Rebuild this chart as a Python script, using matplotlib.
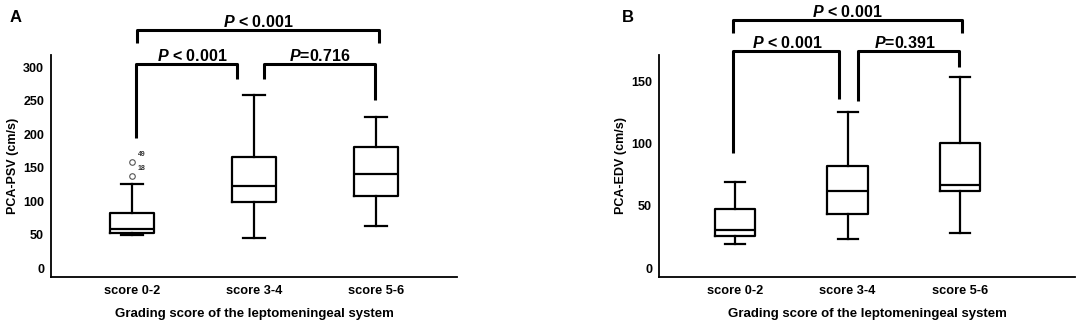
import matplotlib
matplotlib.use("Agg")
import matplotlib.pyplot as plt

plt.rcParams['font.family'] = ['Liberation Sans', 'DejaVu Sans']
plt.rcParams['font.weight'] = 'bold'
plt.rcParams['mathtext.fontset'] = 'custom'
plt.rcParams['mathtext.it'] = 'Liberation Sans:italic:bold'
plt.rcParams['mathtext.rm'] = 'Liberation Sans:bold'

# Data
groups = ['score 0-2', 'score 3-4', 'score 5-6']

# Panel A: PCA-PSV (cm/s)
psv_low = [49, 45, 63]
psv_q1 = [52, 98, 108]
psv_med = [59, 122, 140]
psv_q3 = [82, 165, 180]
psv_high = [126, 258, 226]
psv_outliers = [[138, 159], [], []]
psv_outlier_ids = [['18', '49'], [], []]

# Panel B: PCA-EDV (cm/s)
edv_low = [19.5, 23.5, 28.5]
edv_q1 = [26, 43, 62]
edv_med = [30.5, 62, 66.5]
edv_q3 = [47, 82, 100]
edv_high = [69, 125, 153]

# significance brackets: (x1, x2, y, left leg end, right leg end, label, text x)
psv_brackets = [
    (1.04, 3.02, 356, 336, 336, r'$P$ < 0.001', 2.03),
    (1.03, 1.86, 304, 194, 282, r'$P$ < 0.001', 1.49),
    (2.08, 2.99, 304, 282, 251, r'$P$=0.716', 2.54),
]
edv_brackets = [
    (0.98, 3.02, 199, 188.5, 188.5, r'$P$ < 0.001', 2.0),
    (0.98, 1.92, 174.5, 92, 135.5, r'$P$ < 0.001', 1.46),
    (2.09, 2.99, 174.5, 134, 161, r'$P$=0.391', 2.51),
]


def make_stats(low, q1, med, q3, high, fliers=None):
    stats = []
    for i in range(len(low)):
        stats.append({
            'whislo': low[i], 'q1': q1[i], 'med': med[i],
            'q3': q3[i], 'whishi': high[i],
            'fliers': fliers[i] if fliers else [],
        })
    return stats


def draw_panel(ax, stats, ylim, yticks, ylabel, brackets, letter, letter_x):
    line = dict(color='black', linewidth=1.6)
    ax.bxp(stats, positions=[1, 2, 3], widths=0.36, showfliers=True,
           boxprops=line, whiskerprops=line, capprops=line,
           medianprops=line, capwidths=0.18,
           flierprops=dict(marker='o', markersize=4, markerfacecolor='white',
                           markeredgecolor='#555555', markeredgewidth=0.8))
    ax.set_ylim(*ylim)
    ax.set_yticks(yticks)
    ax.set_xticks([1, 2, 3])
    ax.set_xticklabels(groups, fontsize=9.2, fontweight='bold')
    ax.tick_params(axis='both', length=0)
    ax.tick_params(axis='y', labelsize=9, pad=5)
    ax.tick_params(axis='x', pad=5.5)
    for lab in ax.get_yticklabels():
        lab.set_fontweight('bold')
    ax.spines['top'].set_visible(False)
    ax.spines['right'].set_visible(False)
    ax.spines['left'].set_linewidth(1.3)
    ax.spines['bottom'].set_linewidth(1.3)
    ax.set_ylabel(ylabel, fontsize=9, fontweight='bold', labelpad=3)
    ax.set_xlabel('Grading score of the leptomeningeal system', fontsize=9.5,
                  fontweight='bold', labelpad=8)
    for x1, x2, y, l1, l2, txt, tx in brackets:
        ax.plot([x1, x1, x2, x2], [l1, y, y, l2], color='black',
                linewidth=2.2, clip_on=False, solid_capstyle='butt')
        ax.text(tx, y, txt, ha='center', va='bottom', fontsize=11.5,
                fontweight='bold')
    fig.text(letter_x, 1 - 17 / 325, letter, fontsize=12, fontweight='bold',
             ha='left', va='center')


fig = plt.figure(figsize=(10.84, 3.25), dpi=100)
axA = fig.add_axes([51 / 1084, 1 - 277 / 325, (457 - 51) / 1084, 222 / 325])
axB = fig.add_axes([659 / 1084, 1 - 277 / 325, (1075 - 659) / 1084, 222 / 325])

statsA = make_stats(psv_low, psv_q1, psv_med, psv_q3, psv_high, psv_outliers)
draw_panel(axA, statsA, (-13.4, 318), [0, 50, 100, 150, 200, 250, 300],
           'PCA-PSV (cm/s)', psv_brackets, 'A', 10 / 1084)
axA.set_xlim(0.336, 3.66)
for i, (vals, ids) in enumerate(zip(psv_outliers, psv_outlier_ids)):
    for v, name in zip(vals, ids):
        axA.annotate(name, (i + 1, v), xytext=(4, 4), textcoords='offset points',
                     fontsize=5, fontweight='bold', color='#333333')

statsB = make_stats(edv_low, edv_q1, edv_med, edv_q3, edv_high)
draw_panel(axB, statsB, (-7.2, 171), [0, 50, 100, 150],
           'PCA-EDV (cm/s)', edv_brackets, 'B', 622 / 1084)
axB.set_xlim(0.324, 4.02)

fig.savefig('out.png', dpi=100)
